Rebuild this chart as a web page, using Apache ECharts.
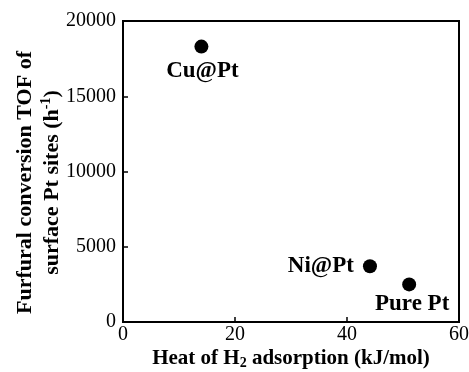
<!DOCTYPE html>
<html>
<head>
<meta charset="utf-8">
<script src="https://cdn.jsdelivr.net/npm/echarts@6/dist/echarts.min.js"></script>
<style>html,body{margin:0;padding:0;background:#fff}#c{width:469px;height:372px}</style>
</head>
<body>
<div id="c"></div>
<script>
const catalysts = ['Cu@Pt', 'Ni@Pt', 'Pure Pt'];
const heatOfAdsorption = [14.0, 44.1, 51.1];
const tofValues = [18300, 3700, 2500];
const xTicks = [0, 20, 40, 60];
const yTicks = [0, 5000, 10000, 15000, 20000];

const font = '"Liberation Serif", "Times New Roman", serif';
const labelStyle = {
  'Cu@Pt': {position: 'bottom', distance: 6, offset: [1, 0]},
  'Ni@Pt': {position: 'left', distance: 9, offset: [0, 0]},
  'Pure Pt': {position: 'bottom', distance: 1, offset: [3, 0]}
};
const data = catalysts.map((n, i) => ({
  name: n,
  value: [heatOfAdsorption[i], tofValues[i]],
  label: Object.assign({show: true, formatter: n, color: '#000', fontFamily: font, fontWeight: 'bold', fontSize: 23}, labelStyle[n])
}));

const chart = echarts.init(document.getElementById('c'), null, {renderer: 'canvas'});
chart.setOption({
  animation: false,
  grid: {left: 123, top: 21, right: 10, bottom: 50, show: true, borderColor: '#000', borderWidth: 2, containLabel: false, outerBoundsMode: 'none'},
  xAxis: {
    type: 'value', min: xTicks[0], max: xTicks[xTicks.length - 1], interval: 20,
    splitLine: {show: false},
    axisLine: {show: true, onZero: false, lineStyle: {color: '#000', width: 2}},
    axisTick: {show: true, inside: true, length: 5, lineStyle: {color: '#000', width: 1.5}},
    axisLabel: {color: '#000', fontFamily: font, fontSize: 20, margin: 3, formatter: v => String(v)},
    name: '{b|Heat of H}{s|2}{b| adsorption (kJ/mol)}',
    nameLocation: 'middle', nameGap: 25, nameMoveOverlap: false,
    nameTextStyle: {
      rich: {
        b: {fontFamily: font, fontWeight: 'bold', fontSize: 21, color: '#000'},
        s: {fontFamily: font, fontWeight: 'bold', fontSize: 14, color: '#000', verticalAlign: 'bottom', padding: [9, 0, 0, 0]}
      }
    }
  },
  yAxis: {
    type: 'value', min: yTicks[0], max: yTicks[yTicks.length - 1], interval: 5000,
    splitLine: {show: false},
    axisLine: {show: true, onZero: false, lineStyle: {color: '#000', width: 2}},
    axisTick: {show: true, inside: true, length: 5, lineStyle: {color: '#000', width: 1.5}},
    axisLabel: {color: '#000', fontFamily: font, fontSize: 20, margin: 7, formatter: v => String(v)},
    name: '{b|Furfural conversion TOF of}\n{b|surface Pt sites (h}{p|-1}{b|)}',
    nameLocation: 'middle', nameGap: 57, nameRotate: 90, nameMoveOverlap: false,
    nameTextStyle: {
      align: 'center',
      lineHeight: 27,
      padding: [0, 22, 0, 0],
      rich: {
        b: {fontFamily: font, fontWeight: 'bold', fontSize: 22, color: '#000', lineHeight: 27},
        p: {fontFamily: font, fontWeight: 'bold', fontSize: 14, color: '#000', verticalAlign: 'top', lineHeight: 27, padding: [0, 0, 9, 0]}
      }
    }
  },
  series: [{
    type: 'scatter',
    symbol: 'circle',
    symbolSize: 14,
    itemStyle: {color: '#000', opacity: 1},
    data: data
  }]
});
</script>
</body>
</html>
